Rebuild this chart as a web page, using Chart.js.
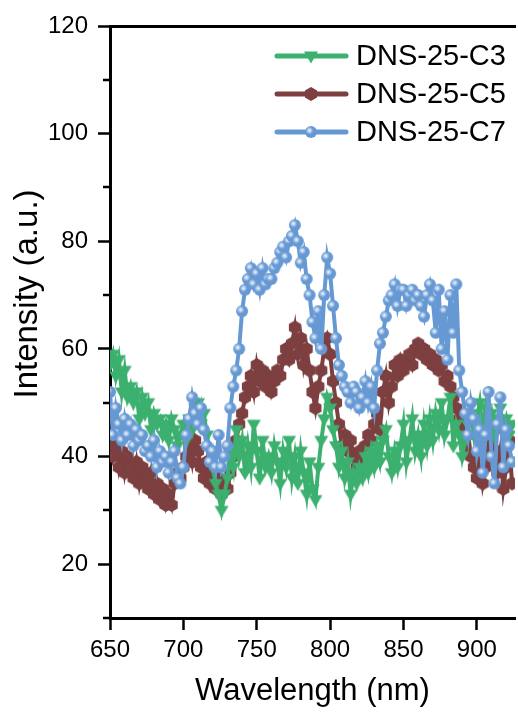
<!DOCTYPE html>
<html>
<head>
<meta charset="utf-8">
<script src="https://cdn.jsdelivr.net/npm/chart.js@4.4.1/dist/chart.umd.min.js"></script>
<style>
  html, body { margin: 0; padding: 0; background: #fff; overflow: hidden; }
  #wrap { width: 518px; height: 712px; overflow: hidden; }
</style>
</head>
<body>
<div id="wrap"><canvas id="plCanvas" width="522" height="712"></canvas></div>
<script>
// PL spectra, intensity vs wavelength (2 nm sampling)
const wavelength = [
  650, 652, 654, 656, 658, 660, 662, 664, 666, 668, 670, 672, 674, 676, 678, 680, 682, 684, 686, 688,
  690, 692, 694, 696, 698, 700, 702, 704, 706, 708, 710, 712, 714, 716, 718, 720, 722, 724, 726, 728,
  730, 732, 734, 736, 738, 740, 742, 744, 746, 748, 750, 752, 754, 756, 758, 760, 762, 764, 766, 768,
  770, 772, 774, 776, 778, 780, 782, 784, 786, 788, 790, 792, 794, 796, 798, 800, 802, 804, 806, 808,
  810, 812, 814, 816, 818, 820, 822, 824, 826, 828, 830, 832, 834, 836, 838, 840, 842, 844, 846, 848,
  850, 852, 854, 856, 858, 860, 862, 864, 866, 868, 870, 872, 874, 876, 878, 880, 882, 884, 886, 888,
  890, 892, 894, 896, 898, 900, 902, 904, 906, 908, 910, 912, 914, 916, 918, 920, 922, 924
];

const dnsC3 = [
  57, 59, 55, 58, 52, 56, 51, 53, 50, 52, 47, 51, 48, 50, 45, 48, 46, 47, 44, 46,
  43, 47, 45, 42, 44, 46, 43, 47, 45, 49, 50, 46, 48, 44, 41, 38, 35, 33, 30, 33,
  36, 41, 38, 45, 40, 43, 37, 42, 38, 46, 41, 36, 43, 38, 40, 37, 42, 39, 35, 41,
  38, 43, 36, 40, 35, 41, 37, 33, 39, 34, 32, 38, 43, 47, 51, 49, 45, 42, 38, 41,
  36, 39, 33, 37, 35, 38, 36, 40, 37, 41, 38, 42, 39, 43, 45, 40, 37, 41, 38, 42,
  46, 39, 43, 47, 41, 44, 40, 46, 42, 47, 43, 48, 45, 50, 44, 47, 51, 42, 46, 44,
  40, 43, 46, 48, 44, 47, 50, 45, 49, 46, 48, 44, 47, 49, 45, 47, 44, 46
];

const dnsC5 = [
  44, 40, 42, 38, 41, 37, 40, 38, 36, 39, 35, 38, 36, 34, 37, 33, 35, 32, 34, 31,
  33, 31, 35, 37, 36, 38, 40, 42, 39, 43, 41, 38, 36, 39, 35, 37, 34, 36, 33, 35,
  34, 37, 40, 43, 46, 48, 51, 53, 55, 52, 57, 54, 56, 53, 55, 52, 54, 56, 55, 58,
  60, 58, 61, 64, 59, 62, 57, 60, 56, 52, 49, 53, 56, 60, 62, 59, 54, 50, 46, 42,
  44, 41, 43, 40, 38, 41, 39, 42, 44, 43, 46, 48, 45, 52, 55, 50, 53, 57, 55, 58,
  56, 58, 59, 57, 60, 61, 59, 60, 58, 59, 57, 58, 56, 57, 54, 55, 53, 51, 49, 47,
  45, 42, 44, 40, 38, 36, 40, 35, 38, 42, 39, 45, 37, 41, 34, 38, 43, 35
];

const dnsC7 = [
  52, 44, 49, 46, 43, 47, 44, 46, 42, 45, 43, 44, 41, 42, 40, 43, 38, 41, 39, 40,
  37, 39, 41, 36, 35, 38, 44, 47, 51, 48, 46, 49, 45, 42, 39, 41, 38, 44, 38, 40,
  42, 49, 53, 56, 60, 67, 71, 73, 75, 72, 74, 71, 75, 72, 73, 73, 75, 76, 78, 79,
  77, 80, 81, 83, 80, 76, 78, 73, 70, 65, 62, 67, 60, 70, 77, 74, 68, 62, 57, 55,
  53, 52, 50, 53, 52, 49, 51, 54, 50, 53, 49, 56, 61, 63, 66, 69, 70, 72, 68, 71,
  71, 68, 70, 71, 69, 70, 68, 66, 70, 72, 69, 63, 71, 60, 67, 58, 70, 63, 72, 56,
  52, 48, 44, 50, 47, 41, 45, 37, 44, 52, 40, 35, 46, 51, 38, 45, 42, 39
];

const seriesNames = ["DNS-25-C3", "DNS-25-C5", "DNS-25-C7"];
const xTicks = [650, 700, 750, 800, 850, 900];
const yTicks = [20, 40, 60, 80, 100, 120];
const yMinorTicks = [10, 30, 50, 70, 90, 110];

const GREEN = "#3cb06e";
const BROWN = "#7d3f3f";
const BLUE = "#6699d4";
const FONT = "'Liberation Sans', Arial, sans-serif";

function markerCanvas(size, draw) {
  const c = document.createElement("canvas");
  c.width = size;
  c.height = size;
  draw(c.getContext("2d"), size / 2);
  return c;
}

// down-pointing triangle
const triDown = markerCanvas(16, (ctx, m) => {
  ctx.fillStyle = GREEN;
  ctx.beginPath();
  ctx.moveTo(m - 7, m - 4.5);
  ctx.lineTo(m + 7, m - 4.5);
  ctx.lineTo(m, m + 7.5);
  ctx.closePath();
  ctx.fill();
});

// hexagon, point up
const hexagon = markerCanvas(16, (ctx, m) => {
  ctx.fillStyle = BROWN;
  ctx.beginPath();
  for (let i = 0; i < 6; i++) {
    const a = Math.PI / 2 + i * Math.PI / 3;
    ctx.lineTo(m + 7 * Math.cos(a), m + 7 * Math.sin(a));
  }
  ctx.closePath();
  ctx.fill();
});

// shaded sphere
const sphere = markerCanvas(14, (ctx, m) => {
  ctx.fillStyle = BLUE;
  ctx.beginPath();
  ctx.arc(m, m, 6, 0, 2 * Math.PI);
  ctx.fill();
  const g = ctx.createRadialGradient(m - 1.5, m - 1.5, 0, m - 1.5, m - 1.5, 3.8);
  g.addColorStop(0, "rgba(255,255,255,0.95)");
  g.addColorStop(1, "rgba(255,255,255,0)");
  ctx.fillStyle = g;
  ctx.beginPath();
  ctx.arc(m, m, 6, 0, 2 * Math.PI);
  ctx.fill();
});

const toPoints = vals => wavelength.map((x, i) => ({ x: x, y: vals[i] }));

// short minor ticks on the y axis
const minorTicks = {
  id: "minorTicks",
  afterDraw(chart) {
    const y = chart.scales.y;
    const ctx = chart.ctx;
    ctx.save();
    ctx.strokeStyle = "#000";
    ctx.lineWidth = 2.5;
    yMinorTicks.forEach(v => {
      const py = Math.round(y.getPixelForValue(v));
      ctx.beginPath();
      ctx.moveTo(chart.chartArea.left - 7, py);
      ctx.lineTo(chart.chartArea.left, py);
      ctx.stroke();
    });
    ctx.restore();
  }
};

// y axis title, sits a bit above the axis middle
const yTitle = {
  id: "yTitle",
  afterDraw(chart) {
    const ctx = chart.ctx;
    ctx.save();
    ctx.translate(28, 294);
    ctx.rotate(-Math.PI / 2);
    ctx.font = "33px " + FONT;
    ctx.fillStyle = "#000";
    ctx.textAlign = "center";
    ctx.textBaseline = "middle";
    ctx.fillText("Intensity (a.u.)", 0, 0);
    ctx.restore();
  }
};

// line + marker key, top right
const seriesKey = {
  id: "seriesKey",
  afterDraw(chart) {
    const ctx = chart.ctx;
    const rows = [56, 94, 132];
    ctx.save();
    ctx.font = "29px " + FONT;
    ctx.textBaseline = "middle";
    ctx.textAlign = "left";
    chart.data.datasets.forEach((ds, i) => {
      const ry = rows[i];
      ctx.strokeStyle = ds.borderColor;
      ctx.lineWidth = 5;
      ctx.lineCap = "round";
      ctx.beginPath();
      ctx.moveTo(277, ry);
      ctx.lineTo(346, ry);
      ctx.stroke();
      const img = ds.pointStyle;
      ctx.drawImage(img, 311 - img.width / 2, ry - img.height / 2);
      ctx.fillStyle = "#000";
      ctx.fillText(ds.label, 356, ry + 1);
    });
    ctx.restore();
  }
};

const tickFont = { family: FONT, size: 24 };

new Chart(document.getElementById("plCanvas").getContext("2d"), {
  type: "line",
  data: {
    datasets: [
      { label: seriesNames[0], data: toPoints(dnsC3), borderColor: GREEN, backgroundColor: GREEN, pointStyle: triDown, order: 1 },
      { label: seriesNames[1], data: toPoints(dnsC5), borderColor: BROWN, backgroundColor: BROWN, pointStyle: hexagon, order: 2 },
      { label: seriesNames[2], data: toPoints(dnsC7), borderColor: BLUE, backgroundColor: BLUE, pointStyle: sphere, order: 0 }
    ]
  },
  options: {
    responsive: false,
    animation: false,
    layout: { padding: { top: 26, left: 0, right: 0, bottom: 0 } },
    elements: {
      line: { borderWidth: 4, tension: 0 },
      point: { radius: 6 }
    },
    plugins: {
      legend: { display: false },
      tooltip: { enabled: false }
    },
    scales: {
      x: {
        type: "linear",
        position: "bottom",
        min: 650,
        max: 926,
        afterBuildTicks: s => { s.ticks = xTicks.map(v => ({ value: v })); },
        afterFit: s => { s.height = 94; s.paddingLeft = 0; s.paddingRight = 0; },
        ticks: { font: tickFont, color: "#000", padding: 6, maxRotation: 0, autoSkip: false },
        grid: { drawOnChartArea: false, drawTicks: true, tickLength: 12, tickWidth: 2.5, tickColor: "#000" },
        border: { display: true, color: "#000", width: 3 },
        title: { display: true, text: "Wavelength (nm)", font: { family: FONT, size: 31 }, color: "#000", padding: { top: 0, bottom: 2 } }
      },
      xTop: {
        type: "linear",
        position: "top",
        min: 650,
        max: 926,
        afterFit: s => { s.height = 0; s.paddingLeft = 0; s.paddingRight = 0; },
        ticks: { display: false },
        grid: { drawOnChartArea: false, drawTicks: false },
        border: { display: true, color: "#000", width: 3 }
      },
      y: {
        type: "linear",
        position: "left",
        min: 10,
        max: 120,
        afterBuildTicks: s => { s.ticks = yTicks.map(v => ({ value: v })); },
        afterFit: s => { s.width = 110; s.paddingTop = 0; s.paddingBottom = 0; },
        ticks: { font: tickFont, color: "#000", padding: 10 },
        grid: { drawOnChartArea: false, drawTicks: true, tickLength: 12, tickWidth: 2.5, tickColor: "#000" },
        border: { display: true, color: "#000", width: 3 }
      }
    }
  },
  plugins: [minorTicks, yTitle, seriesKey]
});
</script>
</body>
</html>
